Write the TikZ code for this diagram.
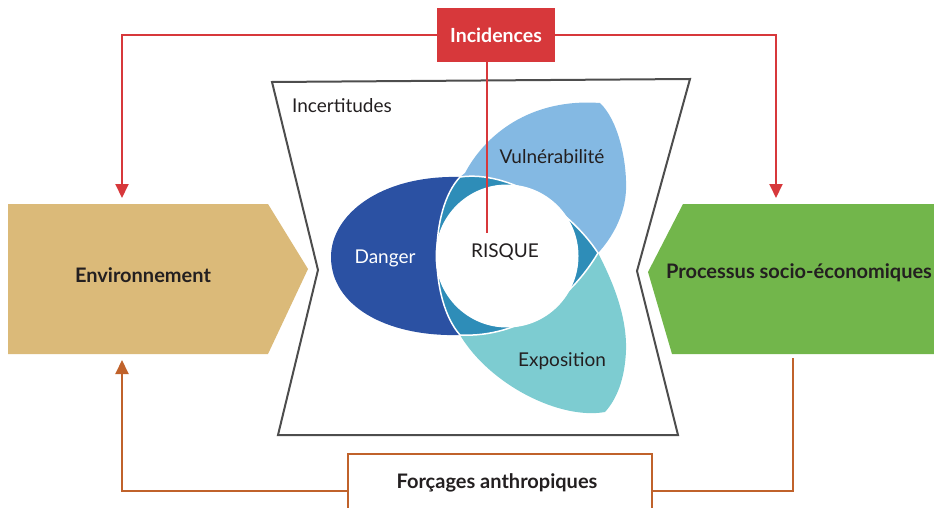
\documentclass[tikz,border=0pt]{standalone}
\usepackage{fontspec}
\setmainfont{Lato}
\usetikzlibrary{arrows.meta}
\definecolor{incred}{HTML}{D7383B}
\definecolor{envcol}{HTML}{DBBA79}
\definecolor{greencol}{HTML}{72B64B}
\definecolor{forcol}{HTML}{C0622B}
\definecolor{dangercol}{HTML}{2B51A3}
\definecolor{vulcol}{HTML}{84B9E3}
\definecolor{expcol}{HTML}{7DCCD1}
\definecolor{midcol}{HTML}{2E8DB8}
\definecolor{outcol}{HTML}{4D4D4D}
\definecolor{txtcol}{HTML}{231F20}
\begin{document}
\begin{tikzpicture}[x=1pt,y=-1pt,
  redline/.style={draw=incred,line width=2pt},
  forline/.style={draw=forcol,line width=2pt},
  tipA/.style={-{Triangle[width=13pt,length=14pt]}},
  boldlbl/.style={font=\fontsize{20}{23}\selectfont\bfseries,text=txtcol},
  reglbl/.style={font=\fontsize{19}{22}\selectfont,text=txtcol},
  ]
\useasboundingbox (0,0) rectangle (934,508);
% side shapes
\fill[envcol] (8,204) -- (268,204) -- (308,269) -- (268,354) -- (8,354) -- cycle;
\fill[greencol] (683,204) -- (934,204) -- (934,354) -- (672,354) -- (648,272) -- cycle;
% hourglass outline
\draw[outcol,line width=2pt,line join=miter] (272,82) -- (690,79) -- (637,271) -- (678,435) -- (278,435) -- (318,270) -- cycle;
% petals
\fill[dangercol] (460,177) .. controls (380,175) and (331,215) .. (331,257)
  .. controls (331,305) and (385,337) .. (460,335)
  .. controls (429,300) and (429,210) .. (460,177) -- cycle;
\fill[vulcol] (460,177) -- (465,173) .. controls (485,135) and (530,98) .. (600,103)
  .. controls (618,120) and (627,160) .. (626,190)
  .. controls (625,215) and (612,238) .. (598,253)
  .. controls (570,210) and (510,170) .. (460,177) -- cycle;
\fill[expcol] (598,253) .. controls (612,280) and (627,315) .. (626,350)
  .. controls (625,380) and (616,400) .. (605,412)
  .. controls (560,420) and (490,385) .. (460,335)
  .. controls (520,338) and (570,300) .. (598,253) -- cycle;
\filldraw[fill=midcol,draw=white,line width=1.5pt] (460,177) .. controls (510,170) and (570,210) .. (598,253)
  .. controls (570,300) and (520,338) .. (460,335)
  .. controls (429,300) and (429,210) .. (460,177) -- cycle;
\filldraw[fill=white,draw=white,line width=1pt] (507,256) circle[radius=71];
% labels in the centre
\node[reglbl,anchor=west,inner sep=0pt] (incert) at (292,106) {Incertitudes};
\node[reglbl,text=white] (danger) at (385,258) {Danger};
\node[reglbl] (risque) at (505,252) {RISQUE};
\node[reglbl] (vul) at (552,157) {Vulnérabilité};
\node[reglbl] (expo) at (562,361) {Exposition};
% side labels
\node[boldlbl] (env) at (143,275) {Environnement};
\node[boldlbl] (proc) at (799,273) {Processus socio-économiques};
% incidences
\node[fill=incred,minimum width=118pt,minimum height=54pt,inner sep=0pt,
  font=\fontsize{19.5}{22}\selectfont\bfseries,text=white] (inc) at (496,35) {Incidences};
\coordinate (envin) at (122,198);
\coordinate (procin) at (776,198);
\coordinate (riskend) at (487,233);
\draw[redline,tipA] (inc.west) -| (envin);
\draw[redline,tipA] (inc.east) -| (procin);
\draw[redline] (inc.south -| riskend) -- (riskend);
% forcages
\fill[white] (348,454) rectangle (652,508);
\draw[forcol,line width=1.2pt] (348,510) -- (348,454) -- (652,454) -- (652,510);
\node[boldlbl] (force) at (497,483) {Forçages anthropiques};
\coordinate (fl) at (348,491);
\coordinate (fr) at (652,491);
\coordinate (envout) at (122,360);
\coordinate (procout) at (793,358);
\draw[forline,tipA] (fl) -| (envout);
\draw[forline] (fr) -| (procout);
\end{tikzpicture}
\end{document}
